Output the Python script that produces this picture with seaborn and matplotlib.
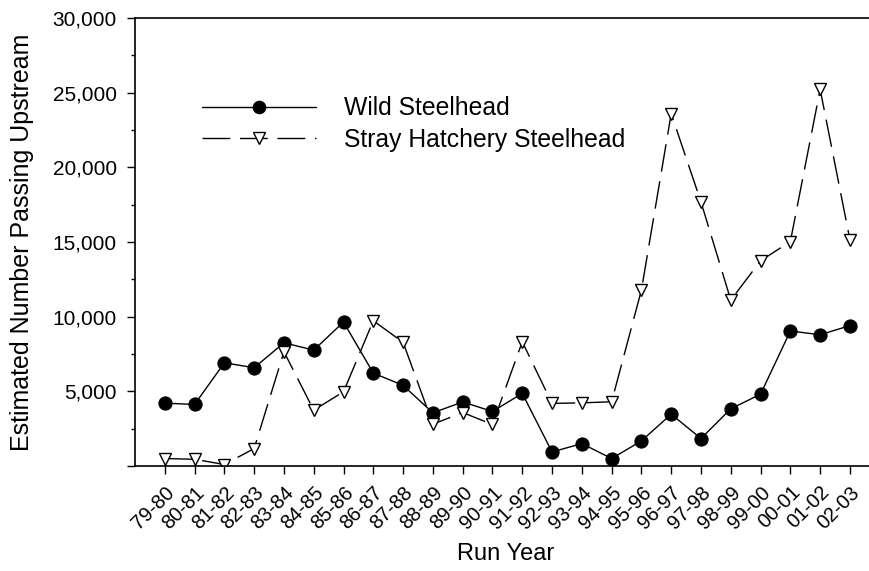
import matplotlib
matplotlib.use('Agg')
import matplotlib.pyplot as plt
import seaborn as sns
from matplotlib.ticker import MultipleLocator, FuncFormatter

# Data
run_years = ['79-80', '80-81', '81-82', '82-83', '83-84', '84-85', '85-86', '86-87',
             '87-88', '88-89', '89-90', '90-91', '91-92', '92-93', '93-94', '94-95',
             '95-96', '96-97', '97-98', '98-99', '99-00', '00-01', '01-02', '02-03']
wild = [4210, 4120, 6910, 6580, 8250, 7760, 9640, 6220,
        5400, 3560, 4290, 3650, 4860, 940, 1500, 500,
        1680, 3470, 1840, 3830, 4810, 9040, 8790, 9400]
hatchery = [500, 450, 100, 1170, 7650, 3740, 4970, 9730,
            8280, 2800, 3580, 2780, 8320, 4190, 4230, 4300,
            11780, 23590, 17680, 11110, 13740, 15030, 25220, 15150]

sns.set_style('ticks')
plt.rcParams['font.family'] = ['Liberation Sans', 'DejaVu Sans']
plt.rcParams['text.color'] = 'black'
plt.rcParams['axes.labelcolor'] = 'black'
plt.rcParams['xtick.color'] = 'black'
plt.rcParams['ytick.color'] = 'black'

fig = plt.figure(figsize=(8.69, 5.71), dpi=100)
ax = fig.add_axes([135 / 869, 105 / 571, 734 / 869, 448 / 571])

sns.lineplot(x=run_years, y=wild, sort=False, ax=ax, color='black', lw=1.0,
             marker='o', markersize=9.5, markerfacecolor='black',
             markeredgecolor='black', label='Wild Steelhead')
sns.lineplot(x=run_years, y=hatchery, sort=False, ax=ax, color='black', lw=1.0,
             linestyle=(0, (20, 7)), marker='v', markersize=9.0,
             markerfacecolor='white', markeredgecolor='black', markeredgewidth=1.0,
             label='Stray Hatchery Steelhead')

ax.set_xlim(-1.0, 23.64)
ax.set_ylim(0, 30000)
ax.yaxis.set_major_locator(MultipleLocator(5000))
ax.yaxis.set_minor_locator(MultipleLocator(2500))
ax.yaxis.set_major_formatter(FuncFormatter(lambda v, p: '' if v == 0 else f'{int(v):,}'))

for s in ['left', 'bottom', 'top']:
    ax.spines[s].set_linewidth(1.2)
    ax.spines[s].set_color('black')
ax.spines['right'].set_visible(False)

ax.tick_params(axis='both', which='major', direction='out', length=6, width=1.0,
               color='black', labelcolor='black')
ax.tick_params(axis='y', which='major', labelsize=15, pad=7)
ax.tick_params(axis='y', which='minor', direction='out', length=3, width=1.0, color='black')
ax.tick_params(axis='x', labelsize=14.5, pad=6)
for lab in ax.get_xticklabels():
    lab.set_rotation(45)
    lab.set_ha('right')
    lab.set_rotation_mode('anchor')

ax.set_xlabel('Run Year', fontsize=17, color='black')
ax.set_ylabel('Estimated Number Passing Upstream', fontsize=18, color='black')
ax.xaxis.set_label_coords(0.505, -0.172)
ax.yaxis.set_label_coords(-0.138, 0.5)

leg = ax.legend(loc='upper left', bbox_to_anchor=(0.091, 0.825), frameon=False,
                fontsize=17.8, handlelength=4.6, handletextpad=1.15, labelspacing=0.3,
                borderpad=0, borderaxespad=0, markerscale=0.95)
for t in leg.get_texts():
    t.set_color('black')

fig.savefig('out.png', dpi=100)
